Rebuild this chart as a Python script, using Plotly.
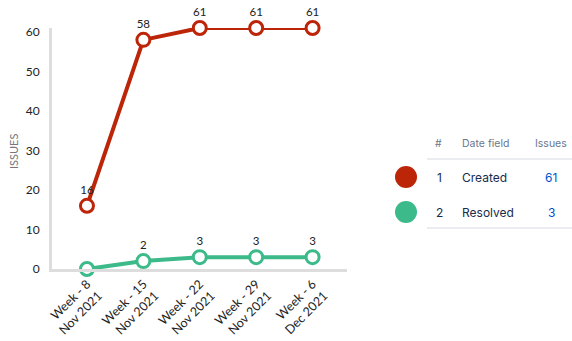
import plotly.graph_objects as go

weeks = ["Week - 8<br>Nov 2021", "Week - 15<br>Nov 2021", "Week - 22<br>Nov 2021",
         "Week - 29<br>Nov 2021", "Week - 6<br>Dec 2021"]
created = [16, 58, 61, 61, 61]
resolved = [0, 2, 3, 3, 3]
resolved_labels = ["", "2", "3", "3", "3"]
y_ticks = [0, 10, 20, 30, 40, 50, 60]

legend_rows = [("1", "Created", "61"), ("2", "Resolved", "3")]
RED = "#BC2508"
GREEN = "#3DBA8A"
colors = [RED, GREEN]

W, H = 572, 341
L, R, T, B = 52, 225, 28, 72
PW, PH = W - L - R, H - T - B


def px(x):
    return (x - L) / PW


def py(y):
    return (H - B - y) / PH


fig = go.Figure()
fig.add_trace(go.Scatter(
    x=list(range(len(weeks))), y=created, mode="lines+markers+text",
    text=[str(v) for v in created], textposition="top center",
    textfont=dict(size=11.5, color="#222", family="Lato"),
    line=dict(color=RED, width=4),
    marker=dict(size=13, color="white", line=dict(color=RED, width=3)),
    cliponaxis=False, showlegend=False, hoverinfo="skip"))
fig.add_trace(go.Scatter(
    x=list(range(len(weeks))), y=resolved, mode="lines+markers+text",
    text=resolved_labels, textposition="top center",
    textfont=dict(size=11.5, color="#222", family="Lato"),
    line=dict(color=GREEN, width=4),
    marker=dict(size=13, color="white", line=dict(color=GREEN, width=3)),
    cliponaxis=False, showlegend=False, hoverinfo="skip"))

fig.update_layout(
    width=W, height=H, margin=dict(l=L, r=R, t=T, b=B, autoexpand=False),
    paper_bgcolor="white", plot_bgcolor="white",
    font=dict(family="Lato", color="#333"),
    xaxis=dict(range=[-0.62, 4.61], tickvals=list(range(len(weeks))), ticktext=weeks,
               tickangle=-45, showgrid=False, zeroline=False, showline=True,
               linecolor="#DDDDDD", linewidth=3, ticks="", automargin=False,
               tickfont=dict(size=12.5, color="#222")),
    yaxis=dict(range=[0, 61], tickvals=y_ticks, showgrid=False, zeroline=False,
               showline=True, linecolor="#DDDDDD", linewidth=3, ticks="",
               automargin=False,
               ticklabelstandoff=7, tickfont=dict(size=12, color="#222")),
)

# y-axis title
fig.add_annotation(x=px(13), y=py(152), xref="paper", yref="paper", text="ISSUES",
                   textangle=-90, showarrow=False, xanchor="center", yanchor="middle",
                   font=dict(size=11, color="#777", family="Lato"))

# legend table
hdr_font = dict(size=10.5, color="#6B778C", family="Inter")
row_font = dict(size=12, color="#172B4D", family="Inter")


def note(x, y, text, font, xanchor="center"):
    fig.add_annotation(x=px(x), y=py(y), xref="paper", yref="paper", text=text,
                       showarrow=False, xanchor=xanchor, yanchor="middle", font=font)


note(438, 143, "#", hdr_font)
note(460, 143, "Date field", hdr_font, "left")
note(551, 143, "Issues", hdr_font)
for yy in (159, 228):
    fig.add_shape(type="line", xref="paper", yref="paper", x0=px(427), x1=px(572),
                  y0=py(yy), y1=py(yy), line=dict(color="#E4E6EA", width=1.5))
row_y = [177, 212]
for (num, name, val), ry, c in zip(legend_rows, row_y, colors):
    fig.add_shape(type="circle", xref="paper", yref="paper",
                  x0=px(395), x1=px(417), y0=py(ry - 11), y1=py(ry + 11),
                  fillcolor=c, line=dict(color=c, width=0))
    note(439, ry, num, row_font)
    note(460, ry, name, row_font, "left")
    note(551, ry, val, dict(size=12, color="#0052CC", family="Inter"))

fig.write_html("out.html")
